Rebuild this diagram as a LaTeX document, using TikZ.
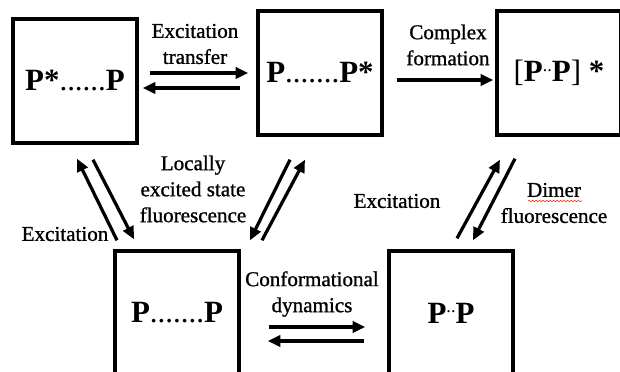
\documentclass[tikz,border=0pt]{standalone}
\usepackage{fontspec}
\setmainfont{Liberation Serif}
\newfontfamily\lblfnt{Liberation Serif}[FakeBold=1]
\usetikzlibrary{arrows.meta,decorations.pathmorphing}
\tikzset{
  box/.style={draw,line width=2.4pt,minimum width=3.1cm,minimum height=3.1cm,inner sep=0pt,
    font=\fontsize{22}{26}\selectfont\bfseries},
  lbl/.style={align=center,inner sep=1pt,font=\lblfnt\fontsize{15}{18.5}\selectfont},
  rx/.style={-{Triangle[length=9pt,width=8pt]},line width=2.3pt},
}
\newcommand{\dotrun}[1]{{\mdseries#1}}
\newcommand{\twodots}{{\mdseries\raisebox{7.5pt}{\fontsize{13}{13}\selectfont..}}}

\begin{document}
\begin{tikzpicture}[x=0.025cm,y=-0.025cm]
  \useasboundingbox[fill=white] (0,0) rectangle (620,372);
  % the five states
  \node[box] (ex) at (75,81) {P*\dotrun{......}P};
  \node[box] (xe) at (320,73) {P\dotrun{.......}P*};
  \node[box,font=\fontsize{22}{26}\selectfont] (cx) at (559,73) {[\textbf{P\twodots P}] \textbf{*}};
  \node[box] (gs) at (177,313) {P\dotrun{.......}P};
  \node[box] (dm) at (451,313) {P\twodots P};

  % labels
  \node[lbl] (ltr) at (195,44) {Excitation\\transfer};
  \node[lbl] (lcx) at (448,45) {Complex\\formation};
  \node[lbl] (lle) at (193,189) {Locally\\excited state\\fluorescence};
  \node[lbl] (lxl) at (65,234) {Excitation};
  \node[lbl] (lxr) at (397,201) {Excitation};
  \node[lbl] (ldf) at (554,203) {Dimer\\fluorescence};
  \node[lbl] (lcd) at (312,294) {Conformational\\dynamics};
  \draw[red!70!orange,line width=.4pt,decorate,decoration={snake,amplitude=.5pt,segment length=2.5pt}]
    ([shift={(-26,-2)}]ldf.center) -- ([shift={(28,-2)}]ldf.center);

  % transitions
  \draw[rx] ([shift={(11,-8)}]ex.east) -- ([shift={(-8,0)}]xe.west);
  \draw[rx] ([shift={(-16,15)}]xe.west) -- ([shift={(4,7)}]ex.east);
  \draw[rx] ([shift={(13,7)}]xe.east) -- ([shift={(-2,7)}]cx.west);
  \draw[rx] ([shift={(-60,-9)}]gs.north) -- ([shift={(2,14)}]ex.south);
  \draw[rx] ([shift={(18,15)}]ex.south) -- ([shift={(-43,-10)}]gs.north);
  \draw[rx] ([shift={(-30,23)}]xe.south) -- ([shift={(73,-9)}]gs.north);
  \draw[rx] ([shift={(85,-9)}]gs.north) -- ([shift={(-15,23)}]xe.south);
  \draw[rx] ([shift={(6,-11)}]dm.north) -- ([shift={(-59,23)}]cx.south);
  \draw[rx] ([shift={(-44,22)}]cx.south) -- ([shift={(22,-9)}]dm.north);
  \draw[rx] ([shift={(28,14)}]gs.east) -- ([shift={(-22,14)}]dm.west);
  \draw[rx] ([shift={(-23,28)}]dm.west) -- ([shift={(27,28)}]gs.east);
\end{tikzpicture}
\end{document}
